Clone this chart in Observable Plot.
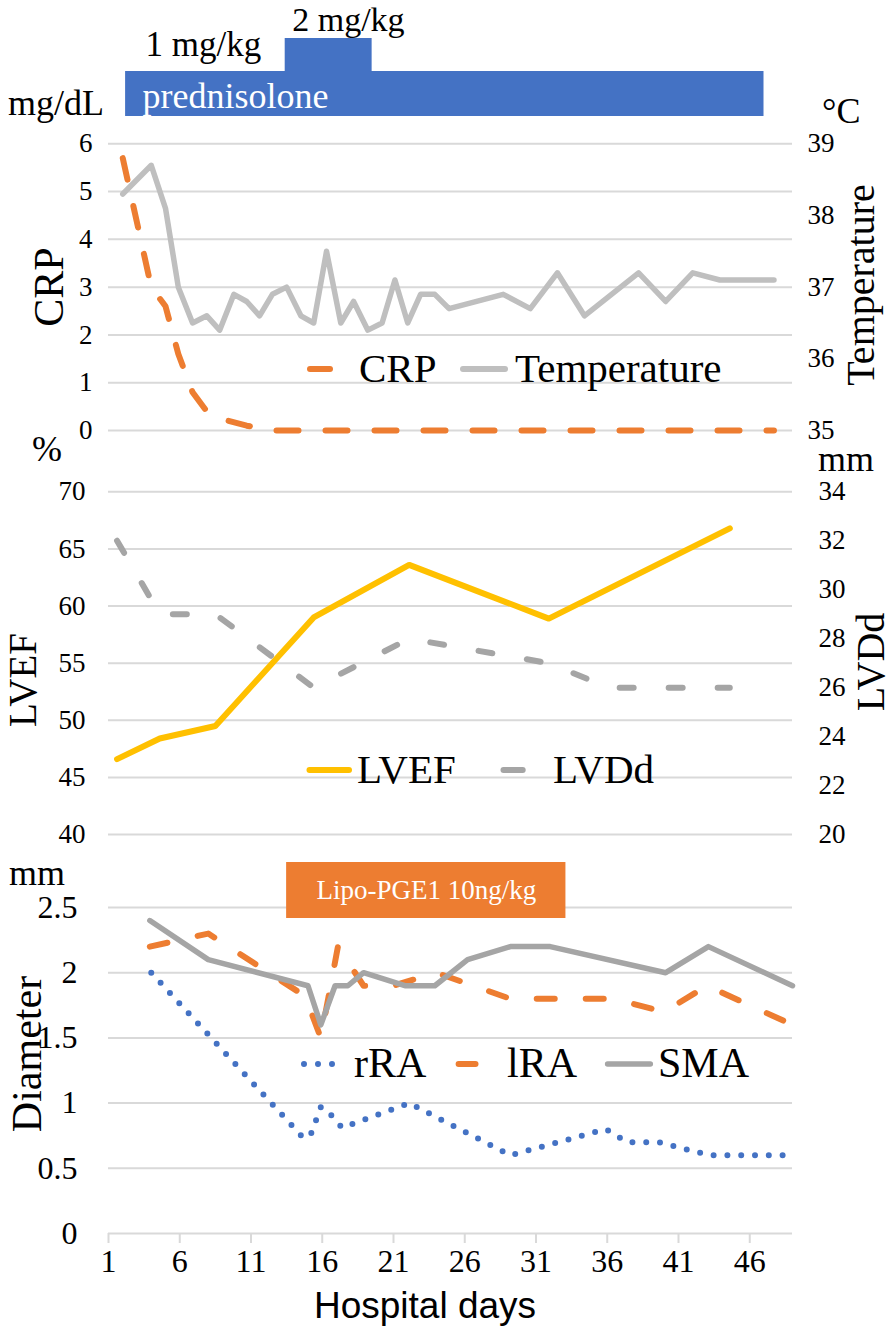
<!DOCTYPE html>
<html><head><meta charset="utf-8">
<script src="https://cdn.jsdelivr.net/npm/d3@7"></script>
<script src="https://cdn.jsdelivr.net/npm/@observablehq/plot@0.6"></script>
<style>
html,body{margin:0;padding:0;background:#fff;}
#chart{position:relative;width:894px;height:1329px;overflow:hidden;background:#fff;}
#chart svg{position:absolute;left:0;top:0;}
</style></head><body><div id="chart"></div>
<script>
// ---------- data ----------
const xTicks = [1, 6, 11, 16, 21, 26, 31, 36, 41, 46];
const crpTicks = [0, 1, 2, 3, 4, 5, 6];
const tempTicks = [35, 36, 37, 38, 39];
const lvefTicks = [40, 45, 50, 55, 60, 65, 70];
const lvddTicks = [20, 22, 24, 26, 28, 30, 32, 34];
const diamTicks = [0, 0.5, 1, 1.5, 2, 2.5];

const crpDays   = [2.0, 4.0, 5.0, 5.9, 6.9, 7.9, 8.8, 10.7, 12.5, 47.7];
const crpValues = [5.7, 3.0, 2.6, 1.6, 0.8, 0.4, 0.25, 0.1, 0, 0];

const tempDays   = [2.0,4.0,5.0,5.9,6.9,7.9,8.8,9.8,10.7,11.6,12.5,13.5,14.5,15.4,16.3,17.3,18.2,19.2,20.2,21.1,22.0,22.9,23.9,24.9,28.7,30.6,32.5,34.4,38.2,40.1,42.0,43.9,47.7];
const tempValues = [38.3,38.7,38.1,37.0,36.5,36.6,36.4,36.9,36.8,36.6,36.9,37.0,36.6,36.5,37.5,36.5,36.8,36.4,36.5,37.1,36.5,36.9,36.9,36.7,36.9,36.7,37.2,36.6,37.2,36.8,37.2,37.1,37.1];

const lvefDays   = [1.6, 4.6, 8.5, 15.4, 22.1, 31.9, 44.6];
const lvefValues = [46.6, 48.4, 49.5, 59.0, 63.6, 58.9, 66.8];

const lvddDays   = [1.6, 4.6, 8.5, 15.4, 22.1, 31.9, 36.1, 44.6];
const lvddValues = [32, 29, 29, 26, 28, 27, 26, 26];

const rraDays   = [4.0, 14.7, 15.2, 15.9, 16.3, 17.4, 22.1, 29.2, 35.9, 37.4, 39.6, 43.2, 49];
const rraValues = [2.0, 0.73, 0.76, 0.97, 0.95, 0.81, 1.0, 0.6, 0.8, 0.7, 0.7, 0.6, 0.6];

const lraDays   = [3.9, 8.0, 14.8, 15.9, 17.1, 18.9, 21.0, 24.0, 29.2, 36.4, 40.0, 43.0, 49];
const lraValues = [2.2, 2.3, 1.82, 1.5, 2.2, 1.9, 1.9, 2.0, 1.8, 1.8, 1.7, 1.9, 1.6];

const smaDays   = [3.9, 8.0, 15.0, 15.9, 16.9, 17.8, 18.9, 21.8, 23.9, 26.2, 29.2, 32.0, 40.1, 43.1, 49];
const smaValues = [2.4, 2.1, 1.9, 1.6, 1.9, 1.9, 2.0, 1.9, 1.9, 2.1, 2.2, 2.2, 2.0, 2.2, 1.9];

const predLabels = ["1 mg/kg", "2 mg/kg"];
const predStart  = [2.2, 13.4];
const predEnd    = [47.0, 19.5];

const lipoLabel = "Lipo-PGE1 10ng/kg";
const lipoStart = 13.5;
const lipoEnd   = 33.1;

// ---------- helpers ----------
const zip = (xs, ys) => xs.map((x, i) => ({day: x, value: ys[i]}));
const W = 894, H = 1329;
const SERIF = "'Liberation Serif', 'Times New Roman', serif";
const SANS = "'Liberation Sans', Arial, sans-serif";
const chart = document.getElementById("chart");
const C = {orange: "#ED7D31", gray: "#A5A5A5", light: "#BFBFBF", yellow: "#FFC000", blue: "#4472C4", grid: "#D9D9D9"};
const fmt = d => String(d);

function forceFont(svg, family) {
  svg.setAttribute("font-family", family);
  svg.querySelectorAll("g, text, tspan").forEach(el => {
    el.removeAttribute("font-family");
    el.style.setProperty("font-family", family, "important");
  });
}

function layer(top, bottom, opts, fontSize = 27) {
  const svg = Plot.plot({
    width: W, height: H,
    marginLeft: 108, marginRight: 102,
    marginTop: top, marginBottom: H - bottom,
    style: {background: "transparent", fontSize: fontSize + "px", color: "#000", overflow: "visible"},
    x: {domain: [1, 49], axis: null},
    ...opts
  });
  svg.style.fontSize = fontSize + "px";
  forceFont(svg, SERIF);
  chart.appendChild(svg);
}
const gridOpts = {stroke: C.grid, strokeOpacity: 1, strokeWidth: 2};

// ---------- prednisolone bar ----------
const predData = predLabels.map((l, i) => ({label: l, start: predStart[i], end: predEnd[i]}));
layer(71, 116, {y: {axis: null, domain: [0, 1]}, marks: [
  Plot.rect([predData[0]], {x1: "start", x2: "end", fill: C.blue}),
  Plot.text([predData[0]], {x: "start", text: () => "prednisolone", frameAnchor: "bottom", lineAnchor: "bottom", textAnchor: "start", dx: 17, dy: -9, fill: "white", fontSize: 36}),
  Plot.text([predData[0]], {x: "start", text: "label", frameAnchor: "top", lineAnchor: "bottom", textAnchor: "start", dx: 20, dy: -16, fill: "black", fontSize: 35})
]});
layer(38, 71.5, {y: {axis: null, domain: [0, 1]}, marks: [
  Plot.rect([predData[1]], {x1: "start", x2: "end", fill: C.blue}),
  Plot.text([predData[1]], {x: "start", text: "label", frameAnchor: "top", lineAnchor: "bottom", textAnchor: "start", dx: 7, dy: -8, fill: "black", fontSize: 34})
]});

// ---------- top panel ----------
layer(143.3, 430, {y: {domain: [0, 6], axis: null}, marks: [
  Plot.gridY({ticks: crpTicks, ...gridOpts}),
  Plot.axisY({ticks: crpTicks, anchor: "left", tickSize: 0, tickPadding: 16, label: null, tickFormat: fmt}),
  Plot.line(zip(crpDays, crpValues), {x: "day", y: "value", stroke: C.orange, strokeWidth: 6, strokeDasharray: "22 27", strokeLinecap: "round", strokeLinejoin: "round"})
]});
layer(143.3, 430, {y: {domain: [35, 39], axis: null}, marks: [
  Plot.axisY({ticks: tempTicks, anchor: "right", tickSize: 0, tickPadding: 15, label: null, tickFormat: fmt}),
  Plot.line(zip(tempDays, tempValues), {x: "day", y: "value", stroke: C.light, strokeWidth: 5.5, strokeLinejoin: "round", strokeLinecap: "round"})
]});

// ---------- middle panel ----------
layer(491.3, 834, {y: {domain: [40, 70], axis: null}, marks: [
  Plot.gridY({ticks: lvefTicks, ...gridOpts}),
  Plot.axisY({ticks: lvefTicks, anchor: "left", tickSize: 0, tickPadding: 23, label: null, tickFormat: fmt}),
  Plot.line(zip(lvefDays, lvefValues), {x: "day", y: "value", stroke: C.yellow, strokeWidth: 6, strokeLinejoin: "round", strokeLinecap: "round"})
]});
layer(491.3, 834, {y: {domain: [20, 34], axis: null}, marks: [
  Plot.axisY({ticks: lvddTicks, anchor: "right", tickSize: 0, tickPadding: 26, label: null, tickFormat: fmt}),
  Plot.line(zip(lvddDays, lvddValues), {x: "day", y: "value", stroke: C.gray, strokeWidth: 6, strokeDasharray: "14 35", strokeLinecap: "round", strokeLinejoin: "round"})
]});

// ---------- bottom panel ----------
layer(907, 1233, {y: {domain: [0, 2.5], axis: null}, marks: [
  Plot.gridY({ticks: diamTicks, ...gridOpts}),
  Plot.axisY({ticks: diamTicks, anchor: "left", tickSize: 0, tickPadding: 31, label: null, tickFormat: fmt}),
  Plot.axisX({ticks: xTicks, anchor: "bottom", tickSize: 10, tickPadding: 6, label: null, stroke: C.grid, strokeWidth: 2, fill: "#000", tickFormat: fmt}),
  Plot.line(zip(rraDays, rraValues), {x: "day", y: "value", stroke: C.blue, strokeWidth: 6, strokeDasharray: "0 13.8", strokeLinecap: "round", strokeLinejoin: "round"}),
  Plot.line(zip(lraDays, lraValues), {x: "day", y: "value", stroke: C.orange, strokeWidth: 6, strokeDasharray: "18 31", strokeLinecap: "round", strokeLinejoin: "round"}),
  Plot.line(zip(smaDays, smaValues), {x: "day", y: "value", stroke: C.gray, strokeWidth: 5.5, strokeLinejoin: "round", strokeLinecap: "round"})
]}, 32);

// ---------- Lipo-PGE1 box ----------
layer(862, 918, {y: {axis: null, domain: [0, 1]}, marks: [
  Plot.rect([{label: lipoLabel, start: lipoStart, end: lipoEnd}], {x1: "start", x2: "end", fill: C.orange}),
  Plot.text([{label: lipoLabel, mid: (lipoStart + lipoEnd) / 2}], {x: "mid", text: "label", frameAnchor: "middle", fill: "white", fontSize: 27})
]});

// ---------- titles, units, legends ----------
const ov = d3.select(chart).append("svg").attr("width", W).attr("height", H);
function txt(x, y, s, size, o = {}) {
  return ov.append("text").attr("x", x).attr("y", y).attr("font-size", size).text(s)
    .attr("text-anchor", o.anchor || "start").attr("fill", o.fill || "#000")
    .style("font-family", o.family || SERIF);
}
function vtxt(x, y, s, size) {
  ov.append("text").attr("transform", `translate(${x},${y}) rotate(-90)`).attr("text-anchor", "middle")
    .attr("font-size", size).style("font-family", SERIF).text(s);
}
function sample(x1, x2, y, color, w, dash) {
  const l = ov.append("line").attr("x1", x1).attr("x2", x2).attr("y1", y).attr("y2", y)
    .attr("stroke", color).attr("stroke-width", w).attr("stroke-linecap", "round");
  if (dash) l.attr("stroke-dasharray", dash);
}
// units
txt(8, 115, "mg/dL", 36);
txt(822, 123, "°C", 36);
txt(32, 461, "%", 36);
txt(818, 471, "mm", 36);
txt(9, 885, "mm", 36);
// axis titles
vtxt(63, 287, "CRP", 42);
vtxt(874, 285, "Temperature", 40);
vtxt(36, 680, "LVEF", 39);
vtxt(884, 662, "LVDd", 40);
vtxt(41, 1054, "Diameter", 42);
txt(425, 1318, "Hospital days", 37, {anchor: "middle", family: SANS});
// legends
sample(310, 330, 369, C.orange, 6);
txt(359, 382, "CRP", 41);
sample(463, 505, 369, C.light, 6);
txt(515, 382, "Temperature", 41);

sample(309.5, 349, 770, C.yellow, 6);
txt(357, 783, "LVEF", 41);
sample(503.5, 522.7, 770, C.gray, 6);
txt(553, 783, "LVDd", 41);

sample(304, 346, 1064, C.blue, 6, "0 14");
txt(354, 1077, "rRA", 42);
sample(458.6, 475.5, 1064, C.orange, 6);
txt(507, 1077, "lRA", 42);
sample(607.6, 650.3, 1064, C.gray, 5.5);
txt(658, 1077, "SMA", 42);
</script></body></html>
